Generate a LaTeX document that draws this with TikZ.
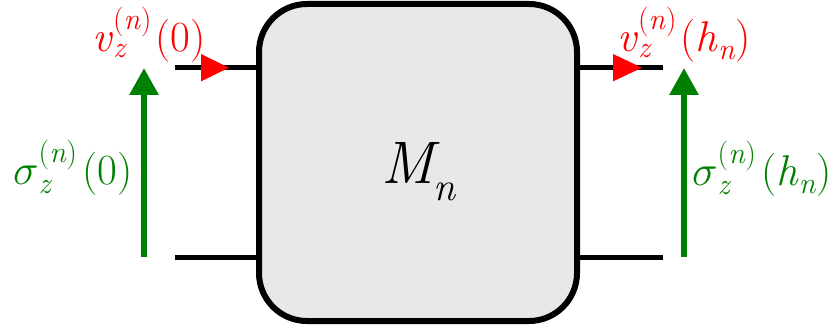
\RequirePackage{fix-cm}
\documentclass[tikz,border=0pt]{standalone}
\usetikzlibrary{arrows.meta}
\definecolor{boxgray}{HTML}{E8E8E8}
\definecolor{dgreen}{HTML}{008000}
\tikzset{
  lead/.style={line width=5pt},
  sigarrow/.style={dgreen, line width=6pt, -{Triangle[width=28pt,length=27pt]}},
  vtri/.style={fill=red},
  lbl/.style={inner sep=0pt, anchor=base west, font=\fontsize{43}{50}\selectfont},
}
\newcommand{\scsize}{\fontsize{30}{30}\selectfont}
% main glyph, superscript letter, subscript lowering
\newcommand{\scr}[3]{#1\rlap{\raisebox{-#3}{\scsize\textit{z}}}\raisebox{22pt}{\scsize(\textit{#2})}}
\begin{document}
\begin{tikzpicture}[x=1pt,y=-1pt]
\useasboundingbox (0,0) rectangle (833,329);
\node[draw, line width=6pt, fill=boxgray, rounded corners=48pt,
      minimum width=318pt, minimum height=317pt, inner sep=0pt] (box) at (418,162.5) {};
\node[inner sep=0pt, anchor=base west, font=\fontsize{60}{66}\selectfont] (M) at (381,183) {\textit{M}\kern-6pt\raisebox{-17pt}{\fontsize{40}{40}\selectfont\textit{n}}};
% leads
\coordinate (tl) at (175,67.7);
\coordinate (bl) at (175,257);
\coordinate (tr) at (663,67.7);
\coordinate (br) at (663,257);
\draw[lead] (tl) -- (tl -| box.west);
\draw[lead] (bl) -- (bl -| box.west);
\draw[lead] (tr -| box.east) -- (tr);
\draw[lead] (br -| box.east) -- (br);
% red triangles
\fill[vtri] (201,54) -- (229,67.7) -- (201,81.4) -- cycle;
\fill[vtri] (613,54) -- (642,67.7) -- (613,81.4) -- cycle;
% green arrows
\coordinate (gl0) at (144,257);
\coordinate (gl1) at (144,68);
\coordinate (gr0) at (684,257);
\coordinate (gr1) at (684,68);
\draw[sigarrow] (gl0) -- (gl1);
\draw[sigarrow] (gr0) -- (gr1);
% labels
\node[lbl, red] (vl) at (92,52) {\scr{\textit{v}}{n}{6pt}\hspace{4pt}(0)};
\node[lbl, red] (vr) at (617,52) {\scr{\textit{v}}{n}{6pt}\hspace{4pt}(\textit{h}\raisebox{-8pt}{\scsize\textit{n}})};
\node[lbl, dgreen] (sl) at (13,184) {\scr{$\sigma$}{n}{9pt}\hspace{5pt}(0)};
\node[lbl, dgreen] (sr) at (692,185) {\scr{$\sigma$}{n}{9pt}\hspace{5pt}(\textit{h}\raisebox{-8pt}{\scsize\textit{n}})};
\end{tikzpicture}
\end{document}
